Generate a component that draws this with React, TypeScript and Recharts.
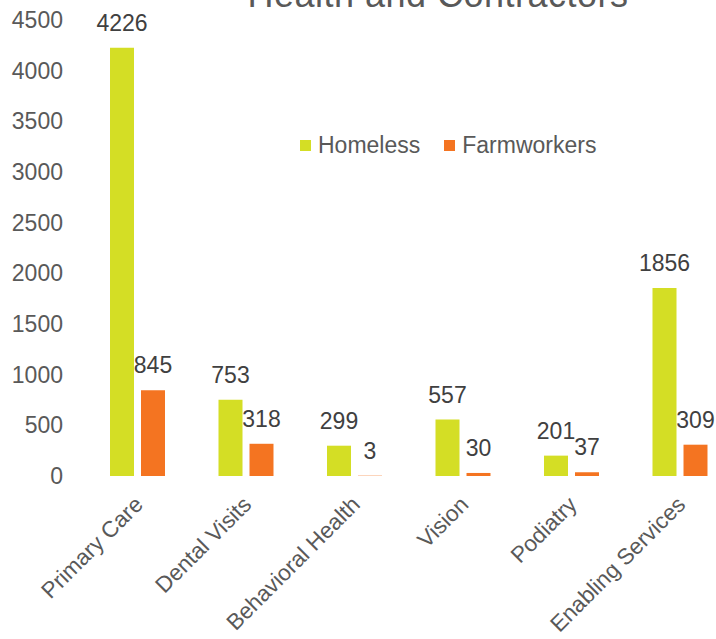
import { BarChart, Bar, XAxis, YAxis, LabelList } from 'recharts';

const categories = ['Primary Care', 'Dental Visits', 'Behavioral Health', 'Vision', 'Podiatry', 'Enabling Services'];
const homeless = [4226, 753, 299, 557, 201, 1856];
const farmworkers = [845, 318, 3, 30, 37, 309];
const yTicks = [0, 500, 1000, 1500, 2000, 2500, 3000, 3500, 4000, 4500];

const data = categories.map((name, i) => ({
  name,
  homeless: homeless[i],
  farmworkers: farmworkers[i],
}));

const GREEN = '#D4DE25';
const ORANGE = '#F47421';
const FONT = '"Liberation Sans", Arial, sans-serif';

function XTick({ x, y, payload }: any) {
  return (
    <g transform={`translate(${x + 7},${y + 28})`}>
      <text textAnchor="end" transform="rotate(-45)" fill="#595959" fontSize={22.5} fontFamily={FONT}>
        {payload.value}
      </text>
    </g>
  );
}

function ValueLabel(props: any) {
  const { x, y, width, value } = props;
  return (
    <text x={x + width / 2} y={y - 17} textAnchor="middle" fill="#404040" fontSize={23} fontFamily={FONT}>
      {value}
    </text>
  );
}

const legendItems = [
  { label: 'Homeless', color: GREEN },
  { label: 'Farmworkers', color: ORANGE },
];

export default function App() {
  return (
    <div
      style={{
        position: 'absolute',
        left: 0,
        top: 0,
        width: 716,
        height: 639,
        overflow: 'hidden',
        background: '#fff',
      }}
    >
      <BarChart
        width={740}
        height={639}
        data={data}
        margin={{ top: 20, right: 6, left: 0, bottom: 0 }}
        barSize={24}
        barGap={7}
      >
        <XAxis
          dataKey="name"
          axisLine={false}
          tickLine={false}
          tickSize={0}
          height={163}
          interval={0}
          tick={<XTick />}
        />
        <YAxis
          domain={[0, 4500]}
          ticks={yTicks}
          axisLine={false}
          tickLine={false}
          tickSize={0}
          tickMargin={20}
          width={83}
          tick={{ fill: '#595959', fontSize: 23, fontFamily: FONT }}
        />
        <Bar dataKey="homeless" name="Homeless" fill={GREEN} isAnimationActive={false}>
          <LabelList dataKey="homeless" content={<ValueLabel />} />
        </Bar>
        <Bar dataKey="farmworkers" name="Farmworkers" fill={ORANGE} isAnimationActive={false}>
          <LabelList dataKey="farmworkers" content={<ValueLabel />} />
        </Bar>
      </BarChart>
      <div
        style={{
          position: 'absolute',
          left: 300,
          top: 131,
          display: 'flex',
          alignItems: 'center',
          fontFamily: FONT,
          fontSize: 23,
          color: '#595959',
          lineHeight: '28px',
        }}
      >
        {legendItems.map((it) => (
          <div key={it.label} style={{ display: 'flex', alignItems: 'center', marginRight: 24 }}>
            <span style={{ width: 11, height: 11, background: it.color, display: 'inline-block', marginRight: 7 }} />
            <span>{it.label}</span>
          </div>
        ))}
      </div>
      <div
        style={{
          position: 'absolute',
          left: 188,
          width: 500,
          top: -23,
          textAlign: 'center',
          fontFamily: FONT,
          fontSize: 36,
          letterSpacing: 0.5,
          lineHeight: '36px',
          color: '#595959',
          whiteSpace: 'nowrap',
        }}
      >
        Health and Contractors
      </div>
    </div>
  );
}
